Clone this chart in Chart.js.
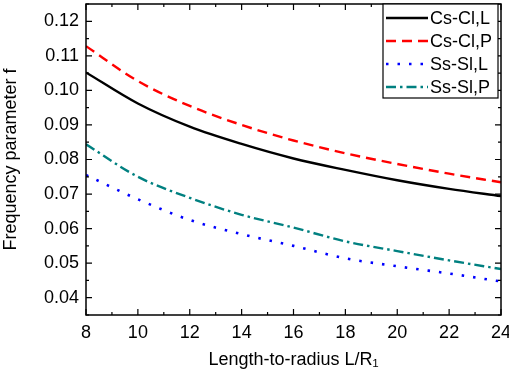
<!DOCTYPE html>
<html>
<head>
<meta charset="utf-8">
<script src="https://cdn.jsdelivr.net/npm/chart.js@4/dist/chart.umd.min.js"></script>
<style>
  html, body { margin: 0; padding: 0; background: #fff; }
</style>
</head>
<body>
<canvas id="chart" width="509" height="377"></canvas>
<script>
// datos
const lengthRatio = [8, 10, 12, 14, 16, 18, 20, 22, 24];
const csClL = [0.1052, 0.0962, 0.0895, 0.0845, 0.0803, 0.0770, 0.0740, 0.0715, 0.0694];
const csClP = [0.1128, 0.1027, 0.0955, 0.0900, 0.0855, 0.0818, 0.0787, 0.0759, 0.0734];
const ssSlL = [0.0755, 0.0685, 0.0625, 0.0584, 0.0550, 0.0514, 0.0491, 0.0470, 0.0447];
const ssSlP = [0.0844, 0.0750, 0.0689, 0.0640, 0.0603, 0.0563, 0.0535, 0.0508, 0.0483];

const xTicks = [8, 10, 12, 14, 16, 18, 20, 22, 24];
const yTicks = [0.04, 0.05, 0.06, 0.07, 0.08, 0.09, 0.10, 0.11, 0.12];

const FONT = "'Liberation Sans', Arial, sans-serif";

const toPoints = (ys) => lengthRatio.map((x, i) => ({ x: x, y: ys[i] }));

// marco con marcas hacia dentro en los cuatro lados
const framePlugin = {
    id: "frame",
    afterDraw(chart) {
        const { ctx, chartArea: a, scales } = chart;
        const xs = scales.x, ys = scales.y;
        ctx.save();
        ctx.strokeStyle = "#000";
        ctx.lineWidth = 1.5;
        ctx.strokeRect(a.left, a.top, a.right - a.left, a.bottom - a.top);
        ctx.lineWidth = 1.2;
        ctx.beginPath();
        for (let v = 8; v <= 24; v += 1) {
            const px = xs.getPixelForValue(v);
            const len = v % 2 === 0 ? 6 : 3;
            ctx.moveTo(px, a.bottom); ctx.lineTo(px, a.bottom - len);
            ctx.moveTo(px, a.top); ctx.lineTo(px, a.top + len);
        }
        for (let k = 7; k <= 25; k++) {
            const v = k * 0.005;
            const py = ys.getPixelForValue(v);
            const len = k % 2 === 0 ? 6 : 3;
            ctx.moveTo(a.left, py); ctx.lineTo(a.left + len, py);
            ctx.moveTo(a.right, py); ctx.lineTo(a.right - len, py);
        }
        ctx.stroke();
        ctx.restore();
    }
};

// leyenda con recuadro, dentro del area
const boxLegend = {
    id: "boxLegend",
    afterDraw(chart) {
        const { ctx, chartArea: a } = chart;
        const w = 115, h = 94;
        const x0 = a.right - 3 - w, y0 = a.top;
        ctx.save();
        ctx.fillStyle = "#fff";
        ctx.fillRect(x0, y0, w, h);
        ctx.strokeStyle = "#000";
        ctx.lineWidth = 1.2;
        ctx.strokeRect(x0, y0, w, h);
        ctx.font = "18px " + FONT;
        ctx.textBaseline = "middle";
        ctx.fillStyle = "#000";
        chart.data.datasets.forEach((ds, i) => {
            const cy = y0 + 14 + i * 23;
            ctx.strokeStyle = ds.borderColor;
            ctx.lineWidth = ds.borderWidth;
            ctx.setLineDash(ds.borderDash || []);
            ctx.beginPath();
            ctx.moveTo(x0 + 3, cy);
            ctx.lineTo(x0 + 45, cy);
            ctx.stroke();
            ctx.setLineDash([]);
            ctx.fillText(ds.label, x0 + 47, cy + 1);
        });
        ctx.restore();
    }
};

new Chart(document.getElementById("chart"), {
    type: "line",
    data: {
        datasets: [
            { label: "Cs-Cl,L", data: toPoints(csClL), borderColor: "#000000", borderWidth: 2.4 },
            { label: "Cs-Cl,P", data: toPoints(csClP), borderColor: "#ff0000", borderWidth: 2.4, borderDash: [10, 6] },
            { label: "Ss-Sl,L", data: toPoints(ssSlL), borderColor: "#0000ff", borderWidth: 2.6, borderDash: [2.5, 9] },
            { label: "Ss-Sl,P", data: toPoints(ssSlP), borderColor: "#008080", borderWidth: 2.4, borderDash: [10, 4, 2.5, 4] }
        ]
    },
    options: {
        responsive: false,
        animation: false,
        layout: { padding: { top: 4, right: 8, left: 0, bottom: 0 } },
        elements: {
            point: { radius: 0 },
            line: { cubicInterpolationMode: "monotone", fill: false }
        },
        plugins: {
            legend: { display: false },
            tooltip: { enabled: false }
        },
        scales: {
            x: {
                type: "linear",
                min: 8,
                max: 24,
                grid: { display: false, drawTicks: false },
                border: { display: false },
                afterBuildTicks: (s) => { s.ticks = xTicks.map(v => ({ value: v })); },
                afterFit: (s) => { s.height = 62; s.paddingLeft = 0; s.paddingRight = 0; },
                ticks: {
                    padding: 7,
                    color: "#000",
                    font: { family: FONT, size: 18 },
                    maxRotation: 0,
                    callback: (v) => String(v)
                },
                title: {
                    display: true,
                    text: "Length-to-radius L/R\u2081",
                    color: "#000",
                    font: { family: FONT, size: 18 },
                    padding: { top: 0, bottom: 6 }
                }
            },
            y: {
                type: "linear",
                min: 0.035,
                max: 0.125,
                grid: { display: false, drawTicks: false },
                border: { display: false },
                afterBuildTicks: (s) => { s.ticks = yTicks.map(v => ({ value: v })); },
                afterFit: (s) => { s.width = 86; s.paddingTop = 0; s.paddingBottom = 0; },
                ticks: {
                    padding: 7,
                    color: "#000",
                    font: { family: FONT, size: 18 },
                    callback: (v) => Number(v).toFixed(2)
                },
                title: {
                    display: true,
                    text: "Frequency parameter f",
                    color: "#000",
                    font: { family: FONT, size: 18 },
                    padding: { top: 0, bottom: 0 }
                }
            }
        }
    },
    plugins: [framePlugin, boxLegend]
});
</script>
</body>
</html>
